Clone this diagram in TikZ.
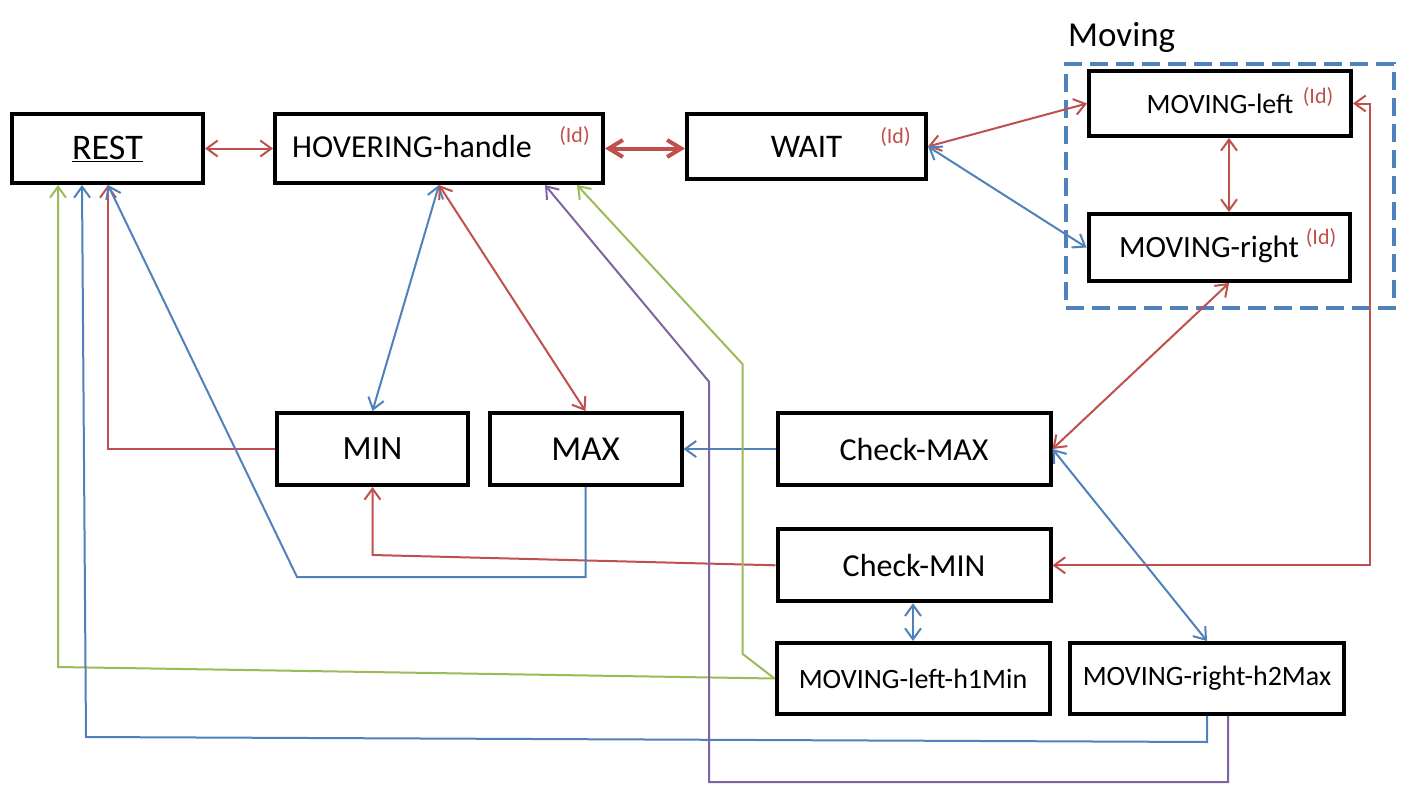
\documentclass[tikz,border=0pt]{standalone}
\usepackage{fontspec}
\setmainfont{Carlito}
\usetikzlibrary{arrows.meta}
\definecolor{cred}{HTML}{C0504D}
\definecolor{cblue}{HTML}{4F81BD}
\definecolor{cgreen}{HTML}{9BBB59}
\definecolor{cpurple}{HTML}{8064A2}
\newcommand{\myfs}[1]{\fontsize{#1pt}{#1pt}\selectfont}
\begin{document}
\begin{tikzpicture}[x=1pt,y=-1pt,
  box/.style={draw=black, line width=4pt, rectangle, inner sep=0pt, fill=white},
  lbl/.style={inner sep=0pt},
  idl/.style={inner sep=0pt, text=cred, font=\myfs{22}},
  ln/.style={line width=2pt},
  >={Straight Barb[length=11pt,width=16pt]}]
\fill[white] (0,0) rectangle (1403,806);
\useasboundingbox (0,0) rectangle (1403,806);

% group
\node[draw=cblue, line width=4pt, dash pattern=on 18pt off 8pt, inner sep=0pt,
      minimum width=328, minimum height=244] (grp) at (1230,186) {};
\node[lbl, anchor=base west, font=\myfs{35}] (grplbl) at (1068,46) {Moving};

% boxes
\node[box, minimum width=191, minimum height=69, font=\myfs{36}] (rest) at (107.5,148.5) {\underline{REST}};
\node[box, minimum width=328, minimum height=69] (hover) at (439,148.5) {};
\node[lbl, anchor=base west, font=\myfs{32}] (hovert) at (292,157) {HOVERING-handle};
\node[idl] (hoverid) at (574.5,136) {(Id)};
\node[box, minimum width=239, minimum height=65, font=\myfs{33}] (wait) at (806.5,146.5) {WAIT};
\node[idl] (waitid) at (895.5,137) {(Id)};
\node[box, minimum width=262, minimum height=65, font=\myfs{28}] (mleft) at (1220,103.5) {MOVING-left};
\node[idl] (mleftid) at (1318,97) {(Id)};
\node[box, minimum width=261, minimum height=67] (mright) at (1219,247.5) {};
\node[lbl, font=\myfs{31}] (mrightt) at (1209,249) {MOVING-right};
\node[idl] (mrightid) at (1321,237.5) {(Id)};
\node[box, minimum width=191, minimum height=72, font=\myfs{34}] (min) at (372.5,449) {MIN};
\node[box, minimum width=192, minimum height=72, font=\myfs{35}] (max) at (585.5,449) {MAX};
\node[box, minimum width=273, minimum height=72, font=\myfs{32}] (chkmax) at (914,449) {Check-MAX};
\node[box, minimum width=273, minimum height=72, font=\myfs{32}] (chkmin) at (914,565.3) {Check-MIN};
\node[box, minimum width=273, minimum height=71, font=\myfs{28}] (h1min) at (913,678.5) {MOVING-left-h1Min};
\node[box, minimum width=274, minimum height=71, font=\myfs{28}] (h2max) at (1207,678.5) {MOVING-right-h2Max};

% bend points
\coordinate (b1) at (297,577);
\coordinate (g1) at (742.7,654);
\coordinate (g2) at (742.7,364.3);
\coordinate (g3) at (58,667);
\coordinate (b2) at (1207,742);
\coordinate (b3) at (86,737);
\coordinate (p1) at (1228,782);
\coordinate (p2) at (709,782);
\coordinate (p3) at (709,381.7);

% connectors
\draw[ln, cred, <->] (rest.east) -- (hover.west);
\draw[cred, line width=4pt, >={Straight Barb[length=14pt,width=17pt]}, <->] (hover.east) -- (hover.east -| wait.west);
\draw[ln, cred, <->] (wait.east) -- (mleft.west);
\draw[ln, cblue, <->] (wait.east) -- (mright.west);
\draw[ln, cred, <->] (mleft.south -| 1229,0) -- (mright.north -| 1229,0);
\draw[ln, cred, <->] (mright.south -| 1229,0) -- (chkmax.east);
\draw[ln, cblue, <->] (chkmax.east) -- (h2max.north);
\draw[ln, cblue, ->] (chkmax.west) -- (max.east);
\draw[ln, cred, <->] (mleft.east) -- (mleft.east -| 1370,0) -- (chkmin.east -| 1370,0) -- (chkmin.east);
\draw[ln, cred, ->] (chkmin.west) -- (min.south |- 0,555) -- (min.south);
\draw[ln, cred, ->] (min.west) -| (rest.south -| 108,0);
\draw[ln, cblue, ->] (max.south) -- (max.south |- b1) -- (b1) -- (rest.south -| 108,0);
\draw[ln, cblue, <->] (hover.south) -- (min.north);
\draw[ln, cred, <->] (hover.south) -- (max.north);
\draw[ln, cgreen, ->] (h1min.west) -- (g1) -- (g2) -- (hover.south -| 577,0);
\draw[ln, cgreen, ->] (h1min.west) -- (g3) -- (rest.south -| 58,0);
\draw[ln, cblue, ->] (h2max.south -| b2) -- (b2) -- (b3) -- (rest.south -| 82,0);
\draw[ln, cpurple, ->] (h2max.south -| p1) -- (p1) -- (p2) -- (p3) -- (hover.south -| 545,0);
\draw[ln, cblue, <->] (chkmin.south -| 913,0) -- (h1min.north -| 913,0);
\end{tikzpicture}
\end{document}
